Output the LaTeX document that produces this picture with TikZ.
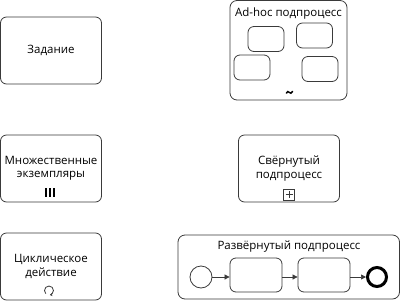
\documentclass[tikz,border=0pt]{standalone}
\usepackage{fontspec}
\setmainfont{Open Sans}
\usetikzlibrary{arrows.meta,positioning,calc}
\definecolor{bpLine}{HTML}{3A3A3A}
\tikzset{
  bpnode/.style={
    draw=bpLine, rounded corners=6pt, line width=0.8pt, inner sep=0pt,
    align=center, font=\fontsize{11.5}{13.5}\selectfont
  },
  task/.style={bpnode, minimum width=101pt, minimum height=67pt},
  minitask/.style={bpnode, minimum width=36pt, minimum height=25pt},
  flowtask/.style={bpnode, minimum width=52pt, minimum height=34pt},
  container/.style={bpnode, rounded corners=7pt},
  title/.style={font=\fontsize{11.5}{13.5}\selectfont, inner sep=0pt},
  startev/.style={draw=bpLine, circle, line width=0.8pt, minimum size=22pt, inner sep=0pt},
  endev/.style={draw=black, circle, line width=3pt, minimum size=19pt, inner sep=0pt},
  seqflow/.style={-{Triangle[length=5pt,width=5pt]}, line width=0.7pt, bpLine},
  marker/.style={draw=bpLine, line width=0.8pt}
}
\begin{document}
\begin{tikzpicture}[x=1pt, y=-1pt]
  \useasboundingbox (0,0) rectangle (400,301);

  % left column
  \node[task] (zad) at (51,50.5) {Задание};
  \node[task] (mult) at (51,168.5) {Множественные\\экземпляры};
  \node[task] (loop) at (51,266.5) {Циклическое\\действие};

  % multi-instance and loop markers
  \foreach \bx in {46,50,54}
    \draw[line width=2pt, black] (\bx,188) -- (\bx,197);
  \draw[marker, -{Stealth[length=2.5pt,width=3pt]}] (45.8,293.7) arc[start angle=135, end angle=440, radius=4.5];

  % ad-hoc sub-process
  \node[container, minimum width=117pt, minimum height=99.5pt] (adhoc) at (288.5,50.25) {};
  \node[title] (adtitle) at (288.5,13.5) {Ad-hoc подпроцесс};
  \node[minitask] (a1) at (266,39) {};
  \node[minitask] (a2) at (314.5,35.5) {};
  \node[minitask] (a3) at (252,67.5) {};
  \node[minitask] (a4) at (320,69) {};
  \draw[line width=1.5pt, black, line cap=round] (286.5,93) .. controls (288,88.5) and (290.5,96.5) .. (292.5,91.5);

  % collapsed sub-process
  \node[task] (coll) at (289,168.5) {Свёрнутый\\подпроцесс};
  \node[marker, minimum size=11pt, inner sep=0pt] (plus) at (289,194.5) {};
  \draw[marker] ($(plus.center)+(-3.5,0)$) -- ($(plus.center)+(3.5,0)$)
                ($(plus.center)+(0,-3.5)$) -- ($(plus.center)+(0,3.5)$);

  % expanded sub-process
  \node[container, minimum width=221.5pt, minimum height=64pt] (exp) at (288.75,267) {};
  \node[title] (exptitle) at (289,247) {Развёрнутый подпроцесс};
  \node[startev] (start) at (201,277) {};
  \node[flowtask] (t1) at (256,275) {};
  \node[flowtask] (t2) at (324,275) {};
  \node[endev] (end) at (377,277) {};
  \draw[seqflow] (start) -- (start -| t1.west);
  \draw[seqflow] (t1.east |- start) -- (t2.west |- start);
  \draw[seqflow] (t2.east |- start) -- (end);
\end{tikzpicture}
\end{document}
